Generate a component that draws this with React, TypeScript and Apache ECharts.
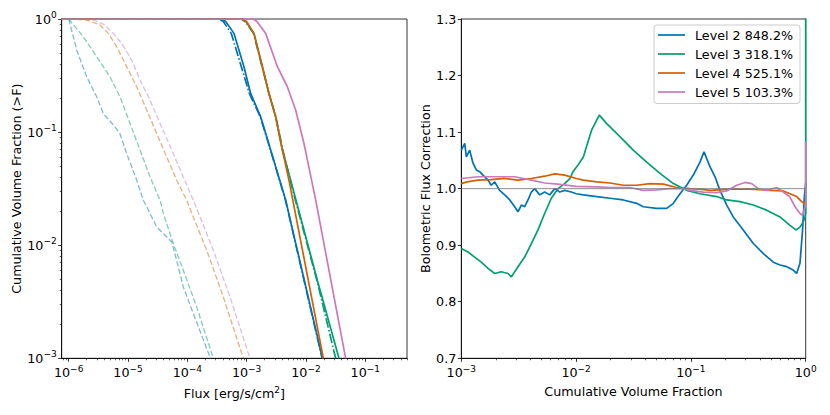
import React, { useEffect, useRef } from 'react';
import * as echarts from 'echarts';

// ---------- Left panel: cumulative volume fraction vs flux (log10 values) ----------
// [log10 flux, log10 fraction]
const l2Solid = [[-6.12, 0], [-3.42, 0], [-3.35, -0.025], [-3.214, -0.127], [-3.046, -0.422], [-2.933, -0.658], [-2.764, -0.865], [-2.595, -1.159], [-2.342, -1.602], [-1.723, -3.0]];
const l2DashDot = [[-6.12, 0], [-3.46, 0], [-3.39, -0.025], [-3.26, -0.127], [-3.09, -0.422], [-2.955, -0.658], [-2.77, -0.865], [-2.598, -1.159], [-2.345, -1.602], [-1.728, -3.0]];
const l3Solid = [[-6.12, 0], [-3.08, 0], [-3.01, -0.025], [-2.877, -0.127], [-2.735, -0.422], [-2.624, -0.658], [-2.511, -0.865], [-2.398, -1.159], [-2.258, -1.425], [-1.808, -2.31], [-1.444, -3.0]];
const l3DashDot = [[-6.12, 0], [-3.09, 0], [-3.02, -0.025], [-2.885, -0.127], [-2.74, -0.422], [-2.625, -0.658], [-2.508, -0.865], [-2.39, -1.159], [-2.224, -1.513], [-1.808, -2.327], [-1.5, -3.0]];
const l4Solid = [[-6.12, 0], [-3.07, 0], [-3.0, -0.025], [-2.877, -0.127], [-2.735, -0.422], [-2.624, -0.658], [-2.511, -0.865], [-2.398, -1.159], [-2.287, -1.425], [-1.707, -3.0]];
const l5Solid = [[-6.12, 0], [-2.9, 0], [-2.83, -0.02], [-2.68, -0.127], [-2.482, -0.422], [-2.314, -0.599], [-2.174, -0.805], [-2.034, -1.1], [-1.836, -1.602], [-1.331, -3.0]];

const l2Dashed = [[-6, 0], [-5.865, -0.274], [-5.697, -0.511], [-5.528, -0.688], [-5.417, -0.835], [-5.22, -0.953], [-5.135, -1.014], [-5.022, -1.191], [-4.854, -1.425], [-4.742, -1.602], [-4.685, -1.661], [-4.517, -1.838], [-4.377, -1.912], [-4.264, -1.971], [-4.18, -2.133], [-4.068, -2.369], [-3.9, -2.604], [-3.61, -3.0]];
const l3Dashed = [[-6, 0], [-5.754, -0.157], [-5.528, -0.334], [-5.304, -0.511], [-5.135, -0.688], [-4.966, -0.923], [-4.797, -1.159], [-4.629, -1.396], [-4.46, -1.602], [-4.405, -1.719], [-4.237, -1.985], [-4.068, -2.221], [-3.842, -2.546], [-3.562, -3.0]];
const l4Dashed = [[-6, 0], [-5.697, -0.009], [-5.472, -0.053], [-5.332, -0.127], [-5.191, -0.245], [-5.022, -0.422], [-4.854, -0.599], [-4.685, -0.805], [-4.517, -1.012], [-4.348, -1.219], [-4.179, -1.425], [-4.011, -1.602], [-3.9, -1.75], [-3.674, -2.044], [-3.394, -2.457], [-3.057, -3.0]];
const l5Dashed = [[-6, 0], [-5.6, -0.005], [-5.4, -0.05], [-5.248, -0.127], [-5.107, -0.215], [-4.938, -0.363], [-4.797, -0.54], [-4.629, -0.717], [-4.46, -0.923], [-4.237, -1.189], [-4.068, -1.396], [-3.9, -1.602], [-3.787, -1.75], [-3.562, -2.044], [-3.281, -2.457], [-2.944, -3.0]];

// ---------- Right panel: bolometric flux correction vs cumulative volume fraction ----------
// [log10 fraction, correction]
const level2Corr = [[-3, 1.068], [-2.97, 1.08], [-2.956, 1.056], [-2.927, 1.068], [-2.898, 1.045], [-2.869, 1.033], [-2.84, 1.03], [-2.811, 1.024], [-2.767, 1.015], [-2.739, 1.006], [-2.709, 1.012], [-2.666, 0.997], [-2.622, 0.989], [-2.578, 0.98], [-2.535, 0.968], [-2.506, 0.959], [-2.477, 0.971], [-2.448, 0.968], [-2.419, 0.98], [-2.39, 0.994], [-2.361, 1.0], [-2.317, 0.989], [-2.274, 0.994], [-2.23, 0.989], [-2.186, 1.0], [-2.143, 0.994], [-2.099, 0.997], [-2.042, 0.994], [-1.998, 0.991], [-1.937, 0.989], [-1.821, 0.986], [-1.705, 0.983], [-1.589, 0.98], [-1.472, 0.974], [-1.415, 0.968], [-1.298, 0.965], [-1.211, 0.965], [-1.153, 0.974], [-1.095, 0.991], [-1.037, 1.006], [-0.979, 1.024], [-0.921, 1.047], [-0.886, 1.065], [-0.834, 1.039], [-0.79, 1.021], [-0.747, 0.997], [-0.688, 0.971], [-0.631, 0.95], [-0.544, 0.927], [-0.456, 0.903], [-0.369, 0.885], [-0.282, 0.87], [-0.224, 0.865], [-0.166, 0.862], [-0.109, 0.856], [-0.079, 0.85], [-0.05, 0.868], [-0.027, 0.927], [-0.012, 0.985], [0, 1.01]];
const level3Corr = [[-3, 0.894], [-2.942, 0.888], [-2.884, 0.879], [-2.826, 0.87], [-2.767, 0.859], [-2.709, 0.85], [-2.652, 0.853], [-2.593, 0.85], [-2.564, 0.844], [-2.506, 0.862], [-2.448, 0.879], [-2.39, 0.903], [-2.332, 0.927], [-2.274, 0.956], [-2.216, 0.983], [-2.158, 1.0], [-2.099, 1.009], [-2.053, 1.018], [-2.027, 1.03], [-1.983, 1.042], [-1.937, 1.056], [-1.864, 1.104], [-1.798, 1.13], [-1.733, 1.115], [-1.618, 1.092], [-1.502, 1.068], [-1.385, 1.047], [-1.269, 1.027], [-1.153, 1.009], [-1.037, 0.997], [-0.921, 0.991], [-0.776, 0.986], [-0.688, 0.98], [-0.573, 0.977], [-0.456, 0.971], [-0.34, 0.962], [-0.224, 0.95], [-0.137, 0.935], [-0.085, 0.927], [-0.05, 0.932], [-0.021, 0.941], [-0.006, 0.95], [0, 0.957], [0, 1.35]];
const level4Corr = [[-3, 1.009], [-2.95, 1.012], [-2.855, 1.015], [-2.739, 1.016], [-2.622, 1.018], [-2.506, 1.015], [-2.39, 1.018], [-2.274, 1.022], [-2.186, 1.026], [-2.099, 1.024], [-1.998, 1.018], [-1.937, 1.015], [-1.821, 1.012], [-1.705, 1.01], [-1.589, 1.006], [-1.472, 1.006], [-1.356, 1.009], [-1.24, 1.008], [-1.124, 1.002], [-1.008, 1.0], [-0.921, 0.999], [-0.834, 0.997], [-0.66, 0.999], [-0.486, 0.999], [-0.31, 0.997], [-0.195, 0.996], [-0.137, 0.991], [-0.079, 0.986], [-0.035, 0.977], [0, 0.972]];
const level5Corr = [[-3, 1.018], [-2.855, 1.021], [-2.68, 1.021], [-2.535, 1.021], [-2.39, 1.015], [-2.274, 1.01], [-2.158, 1.008], [-1.998, 1.004], [-1.821, 1.003], [-1.705, 1.002], [-1.531, 1.002], [-1.415, 0.997], [-1.298, 0.998], [-1.182, 1.0], [-1.066, 1.0], [-1.008, 0.997], [-0.892, 0.994], [-0.776, 0.993], [-0.688, 0.996], [-0.601, 1.006], [-0.529, 1.011], [-0.47, 1.009], [-0.413, 1.0], [-0.34, 0.997], [-0.253, 1.002], [-0.195, 0.994], [-0.137, 0.985], [-0.093, 0.968], [-0.05, 0.956], [-0.027, 0.953], [-0.006, 0.968], [0, 0.975], [0, 1.083]];

const legendNames = ['Level 2 848.2%', 'Level 3 318.1%', 'Level 4 525.1%', 'Level 5 103.3%'];
const leftXTicks = [1e-6, 1e-5, 1e-4, 1e-3, 1e-2, 1e-1];
const leftYTicks = [1e-3, 1e-2, 1e-1, 1];
const rightXTicks = [1e-3, 1e-2, 1e-1, 1];

const COLORS = ['#0173b2', '#029e73', '#d55e00', '#cc78bc'];
const FONT = 'DejaVu Sans';
const FS = 12.7;

const toLogLog = (d: number[][]) => d.map(([a, b]) => [Math.pow(10, a), Math.pow(10, b)]);
const toLogLin = (d: number[][]) => d.map(([a, b]) => [Math.pow(10, a), b]);

const minorTicks = (lo: number, hi: number) => {
  const out: number[] = [];
  for (let e = lo; e <= hi; e++) for (let k = 2; k <= 9; k++) out.push(k * Math.pow(10, e));
  return out;
};

const logLabel = (v: number) => {
  const e = Math.round(Math.log10(v));
  return `{b|10}{s|${e < 0 ? '\u2212' + -e : e}}`;
};
const rich = {
  b: { fontSize: FS, fontFamily: FONT, color: '#000' },
  s: { fontSize: 9, fontFamily: FONT, color: '#000', padding: [0, 0, 8, 0] },
};

const nameStyle = { fontSize: FS, fontFamily: FONT, color: '#000' };
const axisLine = { show: true, lineStyle: { color: '#000', width: 0.8 } };

function majorLogAxis(grid: number, min: number, max: number, ticks: number[], isY: boolean, extra: any) {
  return {
    gridIndex: grid,
    type: 'log',
    logBase: 10,
    min,
    max,
    position: isY ? 'left' : 'bottom',
    axisLine,
    axisTick: { show: true, customValues: ticks, length: 3.5, lineStyle: { color: '#000', width: 0.8 } },
    axisLabel: { show: true, customValues: ticks, formatter: logLabel, rich, margin: isY ? 5 : 6 },
    splitLine: { show: false },
    minorTick: { show: false },
    ...extra,
  };
}
function minorLogAxis(grid: number, min: number, max: number, ticks: number[], isY: boolean) {
  return {
    gridIndex: grid,
    type: 'log',
    logBase: 10,
    min,
    max,
    position: isY ? 'left' : 'bottom',
    axisLine: { show: false },
    axisTick: { show: true, customValues: ticks, length: 2, lineStyle: { color: '#000', width: 0.6 } },
    axisLabel: { show: false },
    splitLine: { show: false },
  };
}

const LX_MIN = Math.pow(10, -6.118);
const LX_MAX = Math.pow(10, -0.297);

function line(name: string, data: number[][], color: string, xi: number, yi: number, opts: any = {}) {
  return {
    type: 'line',
    name,
    data,
    xAxisIndex: xi,
    yAxisIndex: yi,
    showSymbol: false,
    symbol: 'none',
    clip: true,
    color,
    lineStyle: { color, width: opts.width ?? 1.7, type: opts.type ?? 'solid', opacity: opts.opacity ?? 1 },
    z: opts.z ?? 2,
    silent: true,
  };
}

export default function App() {
  const ref = useRef<HTMLDivElement>(null);
  useEffect(() => {
    if (!ref.current) return;
    const chart = echarts.init(ref.current, null, { renderer: 'svg' });
    const dash = [5.5, 2.4];
    const dashDot = [9.6, 2.4, 1.5, 2.4];
    const option: any = {
      animation: false,
      backgroundColor: '#fff',
      textStyle: { fontFamily: FONT, color: '#000' },
      grid: [
        { left: 61.7, top: 19, width: 345.3, height: 339.3, show: true, borderColor: '#000', borderWidth: 0.8, backgroundColor: 'transparent' },
        { left: 461.3, top: 19, width: 344.4, height: 339.3, show: true, borderColor: '#000', borderWidth: 0.8, backgroundColor: 'transparent' },
      ],
      xAxis: [
        majorLogAxis(0, LX_MIN, LX_MAX, leftXTicks, false, {
          name: 'Flux [erg/s/cm{s|2}]',
          nameLocation: 'middle',
          nameGap: 27,
          nameTextStyle: { ...nameStyle, rich: { s: { fontSize: 9, fontFamily: FONT, color: '#000', padding: [0, 0, 8, 0] } } },
        }),
        minorLogAxis(0, LX_MIN, LX_MAX, minorTicks(-7, -1), false),
        majorLogAxis(1, 1e-3, 1, rightXTicks, false, {
          name: 'Cumulative Volume Fraction',
          nameLocation: 'middle',
          nameGap: 27,
          nameTextStyle: nameStyle,
        }),
        minorLogAxis(1, 1e-3, 1, minorTicks(-3, -1), false),
      ],
      yAxis: [
        majorLogAxis(0, 1e-3, 1, leftYTicks, true, {
          name: 'Cumulative Volume Fraction (>F)',
          nameLocation: 'middle',
          nameGap: 37,
          nameTextStyle: nameStyle,
        }),
        minorLogAxis(0, 1e-3, 1, minorTicks(-3, -1), true),
        {
          gridIndex: 1,
          type: 'value',
          min: 0.7,
          max: 1.3,
          interval: 0.1,
          position: 'left',
          axisLine,
          axisTick: { show: true, length: 3.5, lineStyle: { color: '#000', width: 0.8 } },
          axisLabel: { formatter: (v: number) => v.toFixed(1), fontSize: FS, fontFamily: FONT, color: '#000', margin: 5 },
          splitLine: { show: false },
          name: 'Bolometric Flux Correction',
          nameLocation: 'middle',
          nameGap: 28,
          nameTextStyle: nameStyle,
        },
      ],
      legend: {
        data: legendNames,
        orient: 'vertical',
        left: 654,
        top: 25,
        icon: 'rect',
        itemWidth: 27,
        itemHeight: 1.7,
        itemGap: 4,
        padding: [2.5, 7, 4, 4],
        borderColor: '#cccccc',
        borderWidth: 1,
        borderRadius: 3,
        backgroundColor: 'rgba(255,255,255,0.8)',
        textStyle: { fontSize: FS, fontFamily: FONT, color: '#000', lineHeight: 15, padding: [0, 0, 0, 5] },
        selectedMode: false,
      },
      series: [
        // left panel dashed (faint)
        line('d2', toLogLog(l2Dashed), COLORS[0], 0, 0, { type: dash, width: 1.3, opacity: 0.5 }),
        line('d3', toLogLog(l3Dashed), COLORS[1], 0, 0, { type: dash, width: 1.3, opacity: 0.5 }),
        line('d4', toLogLog(l4Dashed), COLORS[2], 0, 0, { type: dash, width: 1.3, opacity: 0.5 }),
        line('d5', toLogLog(l5Dashed), COLORS[3], 0, 0, { type: dash, width: 1.3, opacity: 0.5 }),
        // left panel dash-dot
        line('dd2', toLogLog(l2DashDot), COLORS[0], 0, 0, { type: dashDot }),
        line('dd3', toLogLog(l3DashDot), COLORS[1], 0, 0, { type: dashDot }),
        // left panel solid
        line('s2', toLogLog(l2Solid), COLORS[0], 0, 0),
        line('s3', toLogLog(l3Solid), COLORS[1], 0, 0),
        line('s4', toLogLog(l4Solid), COLORS[2], 0, 0),
        line('s5', toLogLog(l5Solid), COLORS[3], 0, 0),
        // right panel
        line(legendNames[0], toLogLin(level2Corr), COLORS[0], 2, 2),
        line(legendNames[1], toLogLin(level3Corr), COLORS[1], 2, 2),
        line(legendNames[2], toLogLin(level4Corr), COLORS[2], 2, 2),
        line(legendNames[3], toLogLin(level5Corr), COLORS[3], 2, 2),
        line('unity', [[1e-3, 1], [1, 1]], '#808080', 2, 2, { width: 0.9, z: 3 }),
      ],
    };
    chart.setOption(option);
    return () => chart.dispose();
  }, []);
  return <div ref={ref} style={{ position: 'absolute', left: 0, top: 0, width: 830, height: 415 }} />;
}
